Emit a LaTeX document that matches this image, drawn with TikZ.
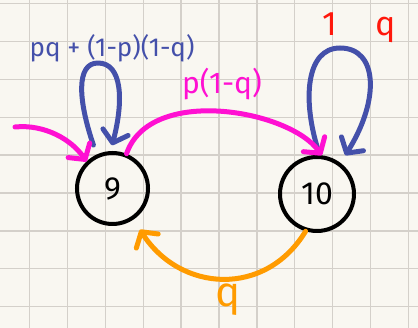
\documentclass[tikz,border=0pt]{standalone}
\usepackage{fontspec}
\setmainfont{Fira Sans}
\usetikzlibrary{arrows.meta}
\definecolor{paper}{RGB}{249,247,241}
\definecolor{gridc}{RGB}{212,208,202}
\definecolor{penblue}{RGB}{68,80,170}
\definecolor{penpink}{RGB}{255,16,210}
\definecolor{penorange}{RGB}{255,155,0}
\definecolor{penred}{RGB}{255,24,12}
\begin{document}
\begin{tikzpicture}[x=1pt,y=-1pt,
  state/.style={circle,draw=black,line width=4pt,inner sep=0pt,font=\fontsize{32}{36}\selectfont},
  pen/.style={line width=5pt,line cap=round,line join=round,-{Straight Barb[length=11pt,width=26pt,round]}},
  lab/.style={inner sep=0pt,font=\fontsize{26}{30}\selectfont}]
\useasboundingbox (0,0) rectangle (418,328);
\fill[paper] (0,0) rectangle (418,328);
\foreach \i in {0,...,10} \draw[gridc,line width=1.3pt] ({29.5+37.9*\i},0) -- ++(0,328);
\foreach \j in {0,...,8} \draw[gridc,line width=1.3pt] (0,{3.5+37.9*\j}) -- ++(418,0);

\node[state,minimum size=71pt] (n9) at (112.5,188.5) {9};
\node[state,minimum size=74pt] (n10) at (317,194) {10};
\coordinate (in9) at (15,127);

\node[lab,text=penblue] (l9) at (112,48) {pq + (1-p)(1-q)};
\node[lab,text=penpink,font=\fontsize{30}{34}\selectfont] (lp) at (222,84) {p(1-q)};
\node[lab,text=penred,font=\fontsize{34}{38}\selectfont] (lr) at (359,28) {1\hspace{38pt}q};
\node[lab,text=penorange,font=\fontsize{42}{46}\selectfont] (lo) at (228,300) {q};

% self loops
\draw[pen,penblue,shorten <=10pt,shorten >=6pt] (n9.115) .. controls (78,100) and (76,63) .. (98,63) .. controls (122,63) and (124,100) .. (n9.93);
\draw[pen,penblue,shorten <=4pt,shorten >=9pt] (n10.86) .. controls (302,100) and (306,48) .. (340,48) .. controls (378,48) and (380,100) .. (n10.53);
% transitions
\draw[pen,penpink] (in9) .. controls (45,124) and (72,140) .. (n9.134);
\draw[pen,penpink] (n9.68) .. controls (150,85) and (290,110) .. (n10.83);
\draw[pen,penorange,shorten >=12pt] (n10.-107) .. controls (265,298) and (180,292) .. (n9.-56);
\end{tikzpicture}
\end{document}
